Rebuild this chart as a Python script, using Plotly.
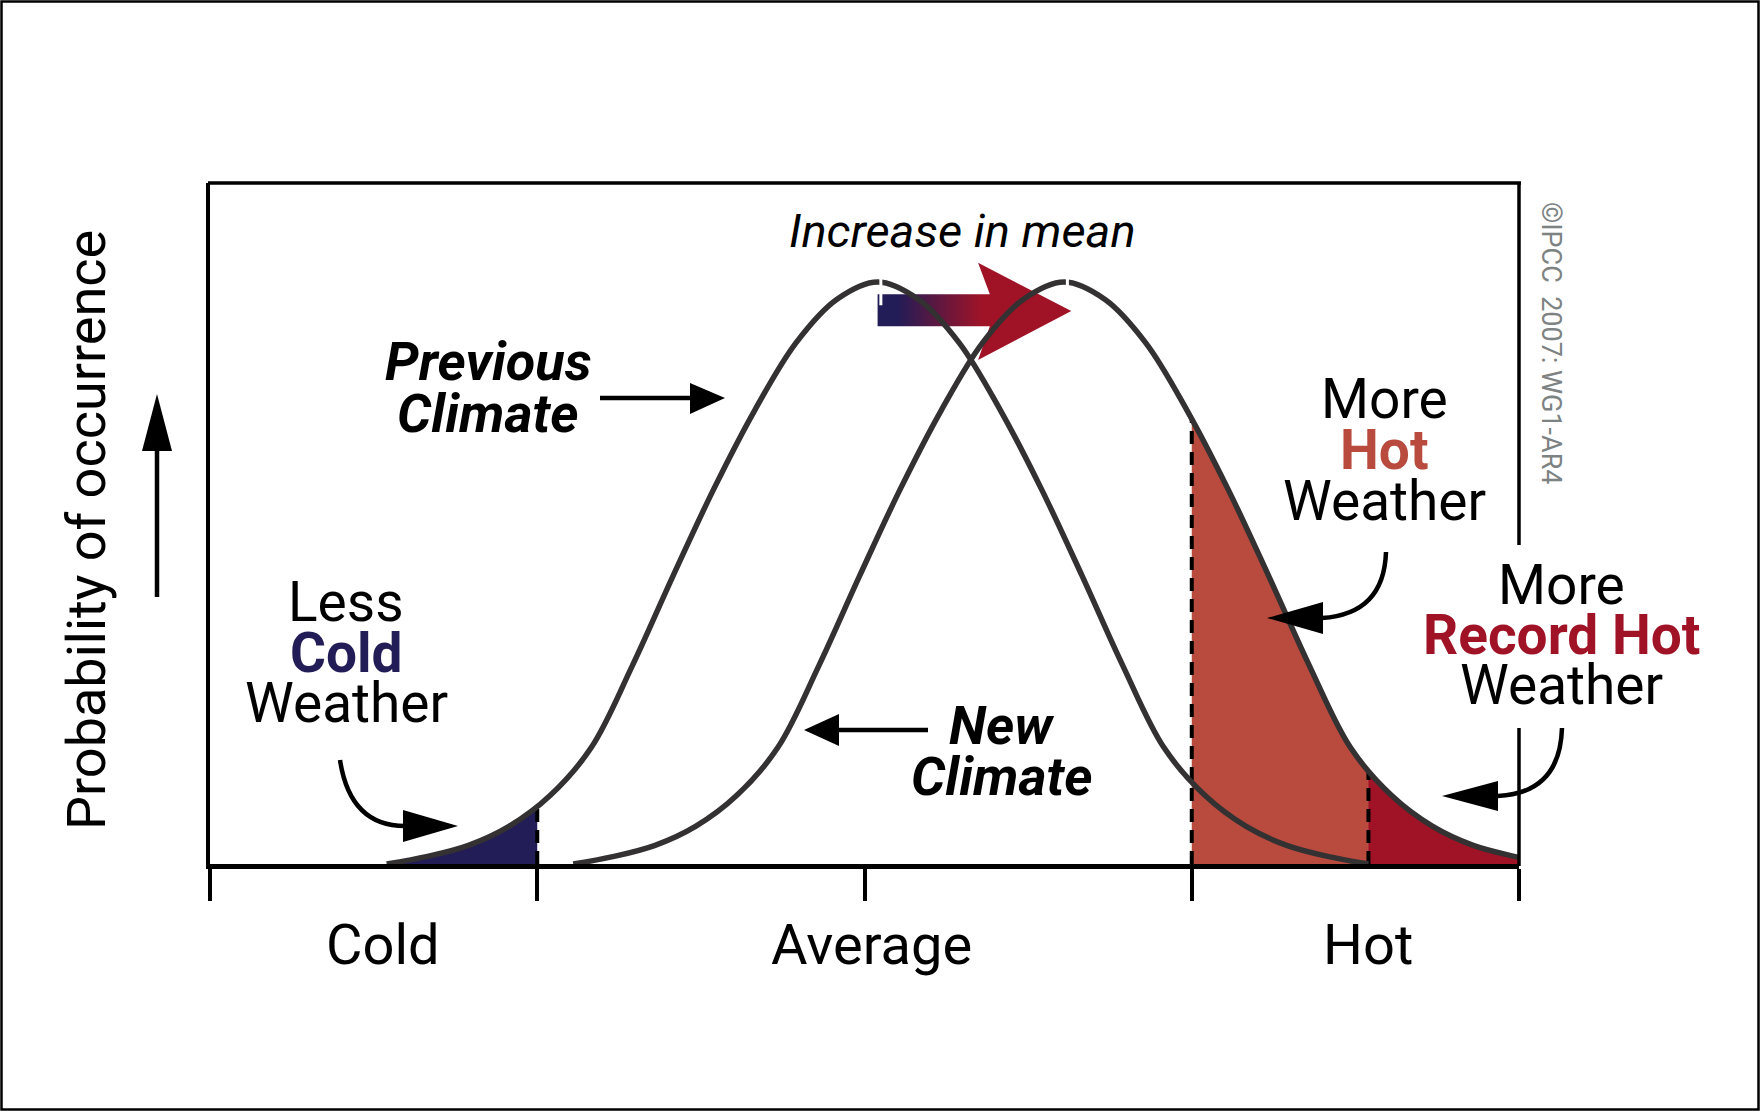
import plotly.graph_objects as go

# x: temperature, 0..4 between the outer ticks; y: probability, 1 at the peak
PREV_X = [0.54, 0.665, 0.79, 0.915, 1.04, 1.165, 1.29, 1.415, 1.54, 1.665, 1.79, 1.915, 2.04,
          2.165, 2.29, 2.415, 2.54, 2.665, 2.79, 2.915, 3.04, 3.165, 3.29, 3.415, 3.54]
PREV_Y = [0.0, 0.013, 0.032, 0.065, 0.118, 0.200, 0.340, 0.495, 0.645, 0.780, 0.895, 0.970, 1.0,
          0.970, 0.895, 0.780, 0.645, 0.495, 0.340, 0.200, 0.118, 0.065, 0.032, 0.013, 0.0]
NEW_X = [1.11, 1.235, 1.36, 1.485, 1.61, 1.735, 1.86, 1.985, 2.11, 2.235, 2.36, 2.485, 2.61,
         2.735, 2.86, 2.985, 3.11, 3.235, 3.36, 3.485, 3.61, 3.735, 3.86, 3.985, 4.0]
NEW_Y = [0.0, 0.013, 0.032, 0.065, 0.118, 0.200, 0.340, 0.495, 0.645, 0.780, 0.895, 0.970, 1.0,
         0.970, 0.895, 0.780, 0.645, 0.495, 0.340, 0.200, 0.118, 0.065, 0.032, 0.013, 0.011]
PREV_MEAN = 2.04
NEW_MEAN = 2.61

AXIS_TICKS = [0, 1, 2, 3, 4]
TICK_LABELS = ["Cold", "Average", "Hot"]
TICK_LABEL_X = [0.53, 2.02, 3.54]

# cold / hot / record-hot thresholds and the curve height where the dashed line stops
THRESH_X = [1.0, 3.0, 3.54]
THRESH_TOP = [0.100, 0.764, 0.158]

W, H = 1760, 1111
NAVY = "#221c57"
HOT = "#b94b3e"
RECORD = "#a01327"
CURVE = "#333132"
GRAY = "#7d8282"
FONT = "Roboto"

cold_x = [x for x in PREV_X if x < THRESH_X[0]] + [THRESH_X[0]]
cold_y = [y for x, y in zip(PREV_X, PREV_Y) if x < THRESH_X[0]] + [THRESH_TOP[0]]
hot_x = [THRESH_X[1]] + [x for x in NEW_X if x > THRESH_X[1]]
hot_y = [THRESH_TOP[1]] + [y for x, y in zip(NEW_X, NEW_Y) if x > THRESH_X[1]]
rec_x = [THRESH_X[2]] + [x for x in NEW_X if x > THRESH_X[2]]
rec_y = [THRESH_TOP[2]] + [y for x, y in zip(NEW_X, NEW_Y) if x > THRESH_X[2]]

fig = go.Figure()


def area(xs, ys, color):
    fig.add_trace(go.Scatter(
        x=xs, y=ys, mode="lines", fill="tozeroy", fillcolor=color,
        line=dict(width=0, shape="spline", color=color), hoverinfo="skip",
    ))


area(cold_x, cold_y, NAVY)
area(hot_x, hot_y, HOT)
area(rec_x, rec_y, RECORD)

# dashed threshold lines
dx, dy = [], []
for x, top in zip(THRESH_X, THRESH_TOP):
    dx += [x, x, None]
    dy += [0, top, None]
fig.add_trace(go.Scatter(
    x=dx, y=dy, mode="lines", line=dict(color="black", width=4, dash="13px,8px"),
    hoverinfo="skip",
))

# "increase in mean" arrow, navy to red
fig.add_trace(go.Scatter(
    x=[PREV_MEAN, 2.383, 2.347, 2.632, 2.347, 2.383, PREV_MEAN, PREV_MEAN],
    y=[0.979, 0.979, 1.033, 0.950, 0.866, 0.924, 0.924, 0.979],
    mode="lines", fill="toself", line=dict(width=0),
    fillgradient=dict(type="horizontal", start=2.1, stop=2.36,
                      colorscale=[[0, NAVY], [1, RECORD]]),
    hoverinfo="skip",
))

for xs, ys in [(PREV_X, PREV_Y), (NEW_X, NEW_Y)]:
    fig.add_trace(go.Scatter(
        x=xs, y=ys, mode="lines", line=dict(color=CURVE, width=5.5, shape="spline"),
        hoverinfo="skip",
    ))

# empty trace so the pixel overlay subplot exists
fig.add_trace(go.Scatter(x=[], y=[], xaxis="x2", yaxis="y2"))

shapes = []
for m in [PREV_MEAN, NEW_MEAN]:
    shapes.append(dict(type="line", xref="x", yref="y", x0=m + 0.01, x1=m + 0.01,
                       y0=0.96, y1=1.04, line=dict(color="white", width=3)))


def px_line(x0, y0, x1, y1, w=3.5):
    shapes.append(dict(type="line", xref="x2", yref="y2", x0=x0, y0=y0, x1=x1, y1=y1,
                       line=dict(color="black", width=w)))


def px_path(d, filled=False, w=4.5):
    shapes.append(dict(type="path", xref="x2", yref="y2", path=d,
                       fillcolor="black" if filled else "rgba(0,0,0,0)",
                       line=dict(color="black", width=0 if filled else w)))


# frame
px_line(208, 183, 1521, 183)
px_line(1519, 183, 1519, 545)
px_line(1519, 728, 1519, 866)
shapes.append(dict(type="rect", xref="x2", yref="y2", x0=1.5, y0=1.5, x1=W - 1.5, y1=H - 1.5,
                   line=dict(color="black", width=2.5)))

# straight arrows
px_line(600, 398, 692, 398, 4.5)
px_path("M690,383 L725,398 L690,414 Z", True)
px_line(928, 730, 836, 730, 4.5)
px_path("M839,714 L804,730 L839,746 Z", True)
px_line(157, 597, 157, 448, 4.5)
px_path("M142,451 L157,394 L172,451 Z", True)

# curved arrows
px_path("M340,760 Q350,826 405,826")
px_path("M403,810 L458,826 L403,842 Z", True)
px_path("M1386,552 Q1384,614 1322,618")
px_path("M1323,602 L1267,618 L1323,634 Z", True)
px_path("M1562,728 Q1560,793 1498,796")
px_path("M1498,781 L1442,796 L1498,811 Z", True)

annotations = []


def label(text, x, y, size=55, color="black", weight="normal", style="normal", angle=0):
    annotations.append(dict(
        text=text, x=x, y=y, xref="x2", yref="y2", showarrow=False,
        xanchor="center", yanchor="middle", textangle=angle,
        font=dict(family=FONT, size=size, color=color, weight=weight, style=style),
    ))


label("Increase in mean", 962, 230, size=47, style="italic")
label("Previous", 488, 361, size=54, weight="bold", style="italic")
label("Climate", 487, 413, size=54, weight="bold", style="italic")
label("New", 1001, 725, size=54, weight="bold", style="italic")
label("Climate", 1001, 776, size=54, weight="bold", style="italic")
label("Less", 346, 602)
label("Cold", 346, 653, color=NAVY, weight="bold")
label("Weather", 346, 703)
label("More", 1384, 399)
label("Hot", 1384, 450, color=HOT, weight="bold")
label("Weather", 1384, 501)
label("More", 1561, 585)
label("Record Hot", 1561, 635, color=RECORD, weight="bold")
label("Weather", 1561, 685)
label("Probability of occurrence", 86, 530, size=54, angle=-90)
label("\u00a9IPCC  2007: WG1-AR4", 1551, 343, size=27, color=GRAY, angle=90)

for text, x in zip(TICK_LABELS, TICK_LABEL_X):
    annotations.append(dict(
        text=text, x=x, y=1 - 945 / H, xref="x", yref="paper", showarrow=False,
        xanchor="center", yanchor="middle",
        font=dict(family=FONT, size=56, color="black"),
    ))

fig.update_layout(
    width=W, height=H, margin=dict(l=0, r=0, t=0, b=0), autosize=False,
    paper_bgcolor="white", plot_bgcolor="rgba(0,0,0,0)", showlegend=False,
    xaxis=dict(domain=[210 / W, 1519 / W], range=[0, 4], tickvals=AXIS_TICKS,
               showticklabels=False, ticks="outside", ticklen=32, tickwidth=3.5,
               tickcolor="black", showline=True, linewidth=5, linecolor="black",
               showgrid=False, zeroline=False, fixedrange=True),
    yaxis=dict(domain=[1 - 864 / H, 1 - 183 / H], range=[0, (864 - 183) / 582],
               showline=True, linewidth=3.5, linecolor="black", showticklabels=False,
               ticks="", showgrid=False, zeroline=False, fixedrange=True),
    xaxis2=dict(domain=[0, 1], range=[0, W], visible=False, anchor="y2", fixedrange=True),
    yaxis2=dict(domain=[0, 1], range=[H, 0], visible=False, anchor="x2", fixedrange=True),
    shapes=shapes, annotations=annotations,
)

# the page's default body margin would push the figure 8px off the window corner
fig.write_html("out.html", config={"displayModeBar": False},
               post_script="document.body.style.margin = '0';")
